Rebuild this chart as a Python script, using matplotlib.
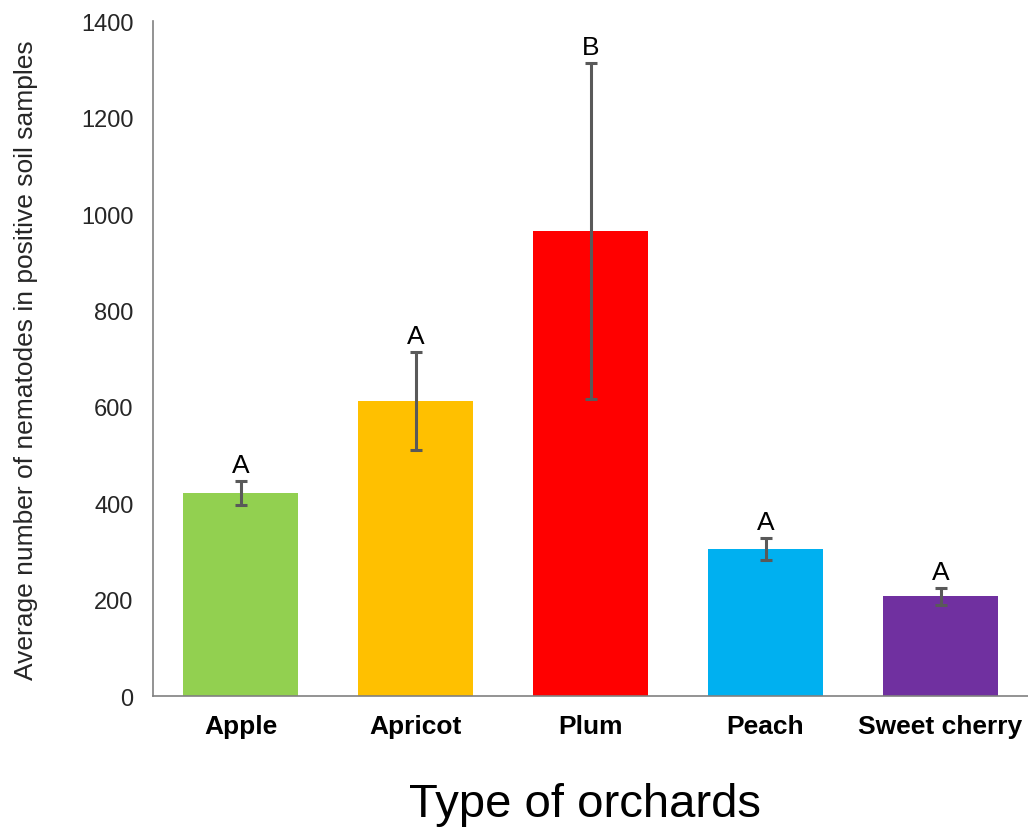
import matplotlib.pyplot as plt

plt.rcParams['font.family'] = ['Liberation Sans', 'DejaVu Sans']

orchards = ['Apple', 'Apricot', 'Plum', 'Peach', 'Sweet cherry']
means = [422, 612, 965, 306, 207]
errors = [25, 102, 349, 23, 18]
letters = ['A', 'A', 'B', 'A', 'A']
colors = ['#92D050', '#FFC000', '#FF0000', '#00B0F0', '#7030A0']

fig = plt.figure(figsize=(10.28, 8.28), dpi=100)
ax = fig.add_axes([0.149, 0.158, 0.851, 0.815])

x = range(len(orchards))
ax.bar(x, means, width=0.66, color=colors)
ax.errorbar(x, means, yerr=errors, fmt='none', ecolor='#595959',
            elinewidth=2.2, capsize=4, capthick=2.2)

# significance letters above each error bar
for i, (m, e, l) in enumerate(zip(means, errors, letters)):
    ax.annotate(l, (i, m + e), xytext=(0, 6.5), textcoords='offset points',
                ha='center', va='baseline', fontsize=19)

ax.set_xlim(-0.5, 4.5)
ax.set_ylim(0, 1400)
ax.set_yticks(range(0, 1401, 200))
ax.set_xticks(list(x))
ax.set_xticklabels(orchards, fontsize=19, fontweight='bold')
ax.tick_params(axis='y', labelsize=17, length=0, pad=14, colors='#262626')
ax.tick_params(axis='x', length=0, pad=13)

for s in ['top', 'right']:
    ax.spines[s].set_visible(False)
for s in ['left', 'bottom']:
    ax.spines[s].set_color('#808080')
    ax.spines[s].set_linewidth(1.2)

ax.set_ylabel('Average number of nematodes in positive soil samples',
              fontsize=19, color='#262626')
ax.yaxis.set_label_coords(-0.132, 0.5)

fig.text(0.569, 0.0133, 'Type of orchards', fontsize=34,
         ha='center', va='baseline')

plt.savefig('out.png', dpi=100)
